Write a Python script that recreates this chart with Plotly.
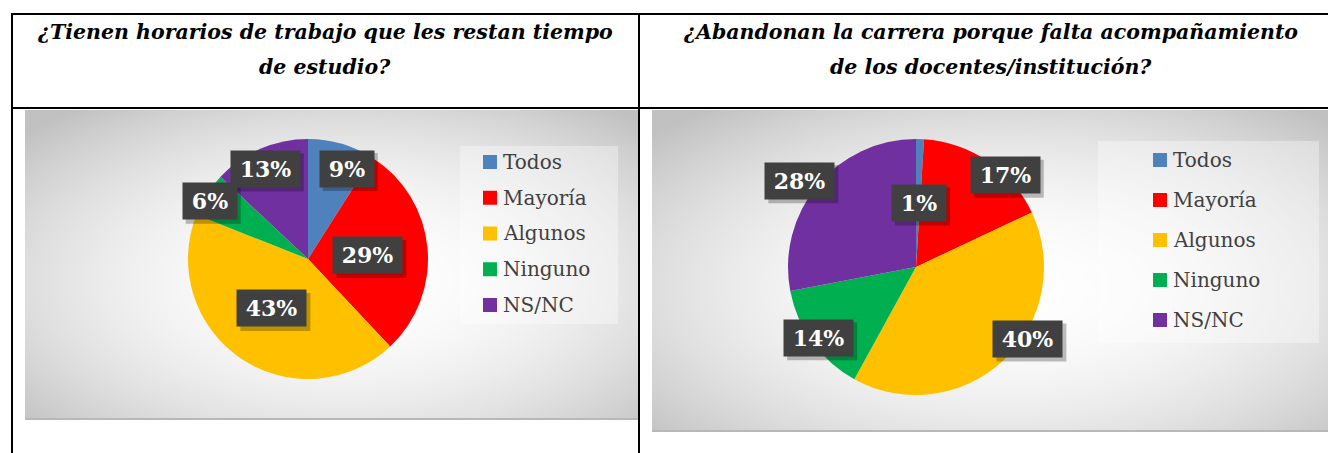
import base64, struct, zlib, math
import numpy as np
import plotly.graph_objects as go

# ---------------- data ----------------
categories = ["Todos", "Mayoría", "Algunos", "Ninguno", "NS/NC"]
colors = ["#4F81BD", "#FF0000", "#FFC000", "#00B050", "#7030A0"]

title_left = ["¿Tienen horarios de trabajo que les restan tiempo", "de estudio?"]
values_left = [9, 29, 43, 6, 13]

title_right = ["¿Abandonan la carrera porque falta acompañamiento", "de los docentes/institución?"]
values_right = [1, 17, 40, 14, 28]

# ---------------- layout constants (pixels) ----------------
W, H = 1328, 453
SERIF = "DejaVu Serif"

def xp(x):
    return x / W

def yp(y):
    return 1 - y / H

# label placement (radius fraction of pie radius, angle nudge in degrees)
label_r_left = [0.82, 0.50, 0.51, 0.95, 0.83]
label_nudge_left = [7, 2, 2, -2, -2]
label_r_right = [0.50, 1.00, 1.04, 0.94, 1.13]
label_nudge_right = [1, 10, -14, 0, -3]

panels = [
    dict(values=values_left, title=title_left, title_cx=325,
         bg=(25, 110, 638, 420), pie_c=(308, 259), pie_r=120,
         lbl_r=label_r_left, lbl_n=label_nudge_left,
         leg_box=(460, 146, 618, 324), leg_x=483, leg_y0=162, leg_gap=35.75),
    dict(values=values_right, title=title_right, title_cx=991,
         bg=(652, 110, 1328, 432), pie_c=(916, 267), pie_r=128,
         lbl_r=label_r_right, lbl_n=label_nudge_right,
         leg_box=(1098, 141, 1319, 343), leg_x=1153, leg_y0=160, leg_gap=40),
]


def png_uri(arr):
    h, w, _ = arr.shape
    raw = b"".join(b"\x00" + arr[i].tobytes() for i in range(h))

    def chunk(t, d):
        c = struct.pack(">I", len(d)) + t + d
        return c + struct.pack(">I", zlib.crc32(t + d) & 0xFFFFFFFF)

    png = (b"\x89PNG\r\n\x1a\n"
           + chunk(b"IHDR", struct.pack(">IIBBBBB", w, h, 8, 2, 0, 0, 0))
           + chunk(b"IDAT", zlib.compress(raw, 9))
           + chunk(b"IEND", b""))
    return "data:image/png;base64," + base64.b64encode(png).decode()


def gradient(w, h):
    yy, xx = np.mgrid[0:h, 0:w].astype(float)
    dx = (xx - w * 0.52) / (w / 2)
    dy = (yy - h * 0.55) / (h / 2)
    d = np.sqrt(dx ** 2 + dy ** 2) / math.sqrt(2)
    d = np.clip(d, 0, 1)
    v = 255 - 62 * d ** 2.0
    v = np.clip(v, 0, 255).astype(np.uint8)
    return np.stack([v, v, v], axis=-1)


fig = go.Figure()
shapes, annotations, images = [], [], []

for p in panels:
    x0, y0, x1, y1 = p["bg"]
    images.append(dict(source=png_uri(gradient(x1 - x0, y1 - y0)), xref="paper", yref="paper",
                       x=xp(x0), y=yp(y0), sizex=(x1 - x0) / W, sizey=(y1 - y0) / H,
                       xanchor="left", yanchor="top", sizing="stretch", layer="below"))
    shapes.append(dict(type="line", xref="paper", yref="paper", x0=xp(x0), x1=xp(x1),
                       y0=yp(y1 - 1), y1=yp(y1 - 1), line=dict(color="#b8b8b8", width=2), layer="below"))

    cx, cy = p["pie_c"]
    r = p["pie_r"]
    fig.add_trace(go.Pie(
        labels=categories, values=p["values"], sort=False, direction="clockwise", rotation=0,
        marker=dict(colors=colors, line=dict(width=0)), textinfo="none",
        hoverinfo="label+percent", showlegend=False,
        domain=dict(x=[xp(cx - r), xp(cx + r)], y=[yp(cy + r), yp(cy - r)]),
    ))

    # data labels
    total = sum(p["values"])
    cum = 0
    for i, v in enumerate(p["values"]):
        mid = (cum + v / 2) / total * 360 + p["lbl_n"][i]
        cum += v
        rr = r * p["lbl_r"][i]
        lx = cx + rr * math.sin(math.radians(mid))
        ly = cy - rr * math.cos(math.radians(mid))
        txt = f"{v}%"
        wbox = 15 * len(str(v)) + 29
        bw, bh = wbox + 10, 37
        # soft shadow
        shapes.append(dict(type="rect", xref="paper", yref="paper",
                           x0=xp(lx - bw / 2 + 3), x1=xp(lx + bw / 2 + 4),
                           y0=yp(ly + bh / 2 + 4), y1=yp(ly - bh / 2 + 3),
                           fillcolor="rgba(0,0,0,0.25)", line=dict(width=0), layer="above"))
        annotations.append(dict(xref="paper", yref="paper", x=xp(lx), y=yp(ly), text=txt,
                                showarrow=False, xanchor="center", yanchor="middle",
                                width=wbox, borderpad=5, bgcolor="#404040",
                                font=dict(family=SERIF, size=22, color="white", weight="bold")))

    # legend
    lx0, ly0, lx1, ly1 = p["leg_box"]
    shapes.append(dict(type="rect", xref="paper", yref="paper", x0=xp(lx0), x1=xp(lx1),
                       y0=yp(ly1), y1=yp(ly0), fillcolor="rgba(255,255,255,0.35)",
                       line=dict(width=0), layer="below"))
    for i, (cat, col) in enumerate(zip(categories, colors)):
        yc = p["leg_y0"] + i * p["leg_gap"]
        sx = p["leg_x"]
        shapes.append(dict(type="rect", xref="paper", yref="paper", x0=xp(sx), x1=xp(sx + 14),
                           y0=yp(yc + 7), y1=yp(yc - 7), fillcolor=col, line=dict(width=0)))
        annotations.append(dict(xref="paper", yref="paper", x=xp(sx + 18), y=yp(yc), text=cat,
                                showarrow=False, xanchor="left", yanchor="middle",
                                font=dict(family=SERIF, size=20, color="#404040")))

    # header text
    for j, line in enumerate(p["title"]):
        annotations.append(dict(xref="paper", yref="paper", x=xp(p["title_cx"]), y=yp(32 + 35 * j),
                                text=line, showarrow=False, xanchor="center", yanchor="middle",
                                font=dict(family=SERIF, size=20.5, color="black",
                                          weight="bold", style="italic")))

# table lines
for (ax0, ay0, ax1, ay1) in [(11, 14, 1328, 14), (11, 108, 1328, 108), (12, 13, 12, 453), (639, 13, 639, 453)]:
    shapes.append(dict(type="line", xref="paper", yref="paper", x0=xp(ax0), x1=xp(ax1),
                       y0=yp(ay0), y1=yp(ay1), line=dict(color="black", width=2), layer="above"))

fig.update_layout(width=W, height=H, autosize=False, margin=dict(l=0, r=0, t=0, b=0),
                  paper_bgcolor="white", plot_bgcolor="white", showlegend=False,
                  shapes=shapes, annotations=annotations, images=images)

fig.write_html("out.html", config={"displayModeBar": False},
               post_script="document.body.style.margin='0';document.body.style.overflow='hidden';")
